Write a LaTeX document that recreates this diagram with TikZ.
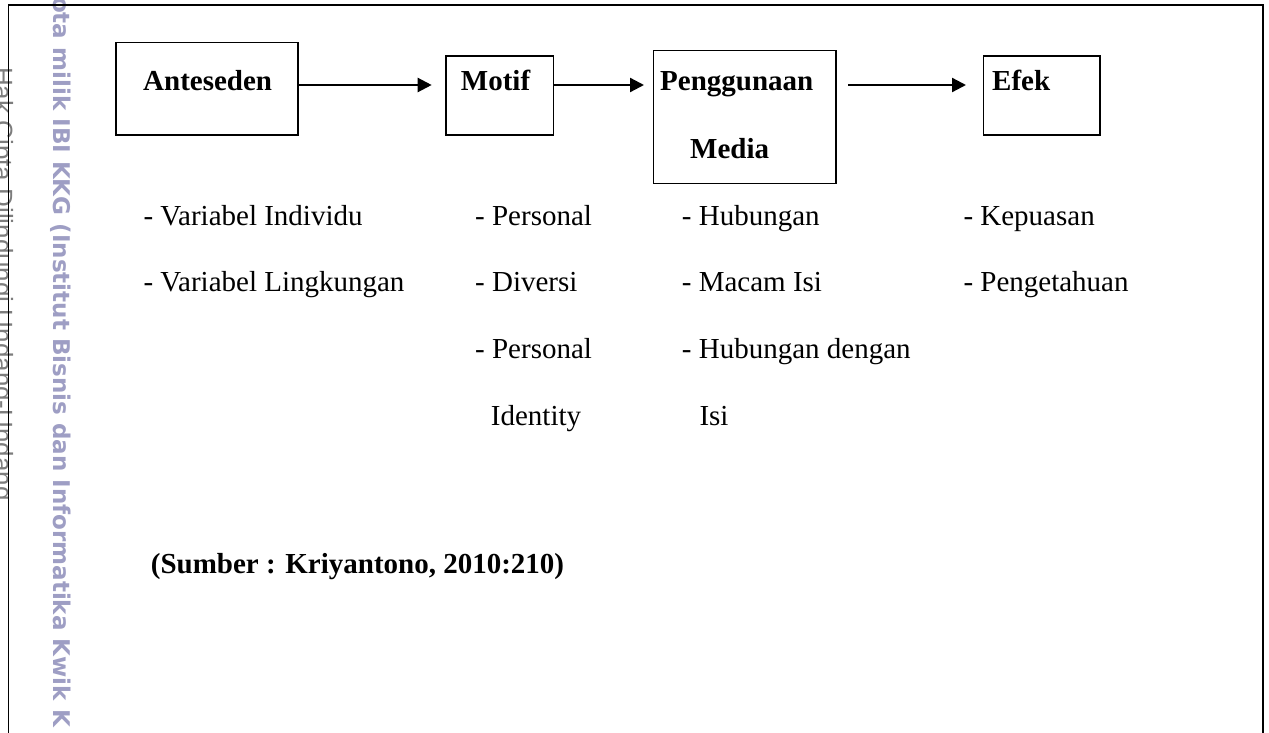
\documentclass[tikz,border=0pt]{standalone}
\usepackage{fontspec}
\setmainfont{Liberation Serif}
\newfontfamily\wmfont{DejaVu Sans}
\newfontfamily\wmtwofont{Liberation Sans}
\usetikzlibrary{calc,arrows.meta}
\definecolor{wmblue}{RGB}{158,158,196}
\definecolor{wmgray}{RGB}{125,125,125}
\tikzset{
  boxn/.style={draw=black, line width=1.6pt, rectangle, inner sep=0pt, outer sep=0pt},
  head/.style={inner sep=0pt, anchor=base west, font=\fontsize{29}{29}\selectfont\bfseries},
  item/.style={inner sep=0pt, anchor=base west, font=\fontsize{29}{29}\selectfont},
  arr/.style={line width=2.3pt, -{Triangle[length=14pt,width=14pt]}},
  frame/.style={line width=1.6pt, draw=black},
  wmone/.style={inner sep=0pt, anchor=base west, rotate=-90, text=wmblue, font=\fontsize{23}{23}\selectfont\wmfont\bfseries},
  wmtwo/.style={inner sep=0pt, anchor=base west, rotate=-90, text=wmgray, font=\fontsize{26}{26}\selectfont\wmtwofont}
}
\begin{document}
\begin{tikzpicture}[x=1pt,y=-1pt]
\useasboundingbox (0,0) rectangle (1269,733);
\clip (0,0) rectangle (1269,733);
\fill[white] (0,0) rectangle (1269,733);
% watermarks
\node[wmone] (wm1) at (53,-3) {ota milik IBI KKG (Institut Bisnis dan Informatika Kwik K};
\node[wmtwo] (wm2) at (-5.6,67) {Hak Cipta Dilindungi Undang-Undang};
% frame
\coordinate (fbl) at (8.3,740);
\coordinate (ftl) at (8.3,5);
\coordinate (ftr) at (1263,5);
\coordinate (fbr) at (1263,740);
\draw[frame] (fbl) -- (ftl) -- (ftr) -- (fbr);
% boxes
\node[boxn, minimum width=182pt, minimum height=92.3pt] (ant) at (206.7,88.85) {};
\node[boxn, minimum width=107.6pt, minimum height=79pt] (mot) at (499.5,95.5) {};
\node[boxn, minimum width=182.4pt, minimum height=132.6pt] (pen) at (744.5,117) {};
\node[boxn, minimum width=116.7pt, minimum height=79pt] (efe) at (1041.65,95.5) {};
% box labels
\node[head] (antt) at (143,91) {Anteseden};
\node[head] (mott) at (460.7,91) {Motif};
\node[head] (pent) at (660,91) {Penggunaan};
\node[head] (penm) at (690,158) {Media};
\node[head] (efet) at (992,91) {Efek};
% arrows
\coordinate (ay) at (0,85);
\draw[arr] (ant.east |- ay) -- ($(mot.west |- ay)+(-14,0)$);
\draw[arr] (mot.east |- ay) -- ($(pen.west |- ay)+(-9.3,0)$);
\draw[arr] ($(pen.east |- ay)+(12.3,0)$) -- ($(efe.west |- ay)+(-17.3,0)$);
% lists
\node[item] (c1a) at (143.3,225) {- Variabel Individu};
\node[item] (c1b) at (143.3,291.7) {- Variabel Lingkungan};
\node[item] (c2a) at (475,225) {- Personal};
\node[item] (c2b) at (475,291.7) {- Diversi};
\node[item] (c2c) at (475,358.3) {- Personal};
\node[item] (c2d) at (490.7,425) {Identity};
\node[item] (c3a) at (681.7,225) {- Hubungan};
\node[item] (c3b) at (681.7,291.7) {- Macam Isi};
\node[item] (c3c) at (681.7,358.3) {- Hubungan dengan};
\node[item] (c3d) at (699.3,425) {Isi};
\node[item] (c4a) at (963.3,225) {- Kepuasan};
\node[item] (c4b) at (963.3,291.7) {- Pengetahuan};
% source
\node[head] (src) at (150.7,573) {(Sumber : Kriyantono, 2010:210)};
\end{tikzpicture}
\end{document}
